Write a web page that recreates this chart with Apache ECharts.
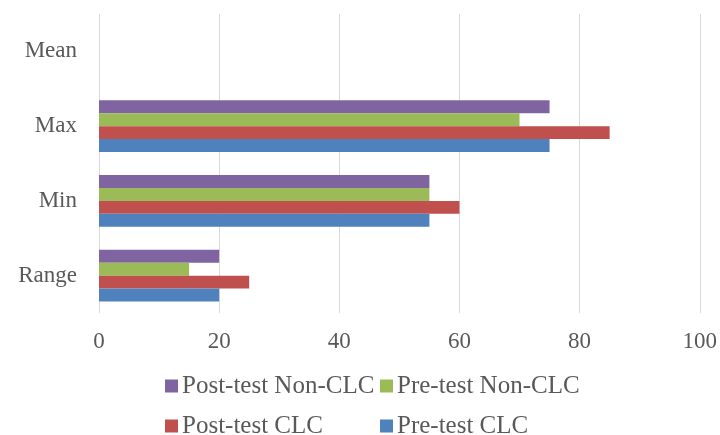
<!DOCTYPE html>
<html>
<head>
<meta charset="utf-8">
<script src="https://cdn.jsdelivr.net/npm/echarts@6/dist/echarts.min.js"></script>
<style>
  html, body { margin: 0; padding: 0; background: #ffffff; }
  #chart { width: 720px; height: 435px; }
</style>
</head>
<body>
<div id="chart"></div>
<script>
// Statistic categories, bottom to top on the vertical axis
var categories = ['Range', 'Min', 'Max', 'Mean'];

// Scores per statistic for each group (Mean has no bars)
var postTestNonCLC = [20, 55, 75, null];
var preTestNonCLC = [15, 55, 70, null];
var postTestCLC = [25, 60, 85, null];
var preTestCLC = [20, 55, 75, null];

// Value axis ticks
var valueTicks = [0, 20, 40, 60, 80, 100];

// Series listed top-to-bottom within each category band
var seriesNames = ['Post-test Non-CLC', 'Pre-test Non-CLC', 'Post-test CLC', 'Pre-test CLC'];
var seriesData = [postTestNonCLC, preTestNonCLC, postTestCLC, preTestCLC];
var seriesColors = ['#8064A2', '#9BBB59', '#C0504D', '#4F81BD'];

var textColor = '#595959';
var fontFamily = '"Liberation Serif", "Times New Roman", serif';

var chart = echarts.init(document.getElementById('chart'), null, { renderer: 'canvas' });

var series = seriesNames.map(function (name, i) {
  return {
    name: name,
    type: 'bar',
    data: seriesData[i],
    itemStyle: { color: seriesColors[i] },
    barGap: '0%',
    barCategoryGap: '31%',
    emphasis: { disabled: true }
  };
});

// One legend per item so the two-column layout lines up
var legendPlacement = [
  { name: 'Post-test Non-CLC', left: 165, top: 373 },
  { name: 'Pre-test Non-CLC', left: 380, top: 373 },
  { name: 'Post-test CLC', left: 165, top: 413 },
  { name: 'Pre-test CLC', left: 380, top: 413 }
];
var legends = legendPlacement.map(function (p) {
  return {
    data: [p.name],
    left: p.left,
    top: p.top,
    padding: 0,
    itemWidth: 13,
    itemHeight: 13,
    itemGap: 0,
    icon: 'rect',
    selectedMode: false,
    textStyle: { color: textColor, fontFamily: fontFamily, fontSize: 25, lineHeight: 26, padding: [0, 0, 0, -1] }
  };
});

chart.setOption({
  animation: false,
  backgroundColor: '#ffffff',
  grid: { left: 99, right: 17, top: 14, bottom: 122, containLabel: false },
  legend: legends,
  xAxis: {
    type: 'value',
    min: valueTicks[0],
    max: valueTicks[valueTicks.length - 1],
    interval: valueTicks[1] - valueTicks[0],
    axisLine: { show: false },
    axisTick: { show: false },
    splitLine: { show: true, lineStyle: { color: '#D9D9D9', width: 1 } },
    axisLabel: { color: textColor, fontFamily: fontFamily, fontSize: 23, margin: 17 }
  },
  yAxis: {
    type: 'category',
    data: categories,
    axisLine: { show: false },
    axisTick: { show: false },
    splitLine: { show: false },
    axisLabel: { color: textColor, fontFamily: fontFamily, fontSize: 23, margin: 22 }
  },
  series: series
});
</script>
</body>
</html>
